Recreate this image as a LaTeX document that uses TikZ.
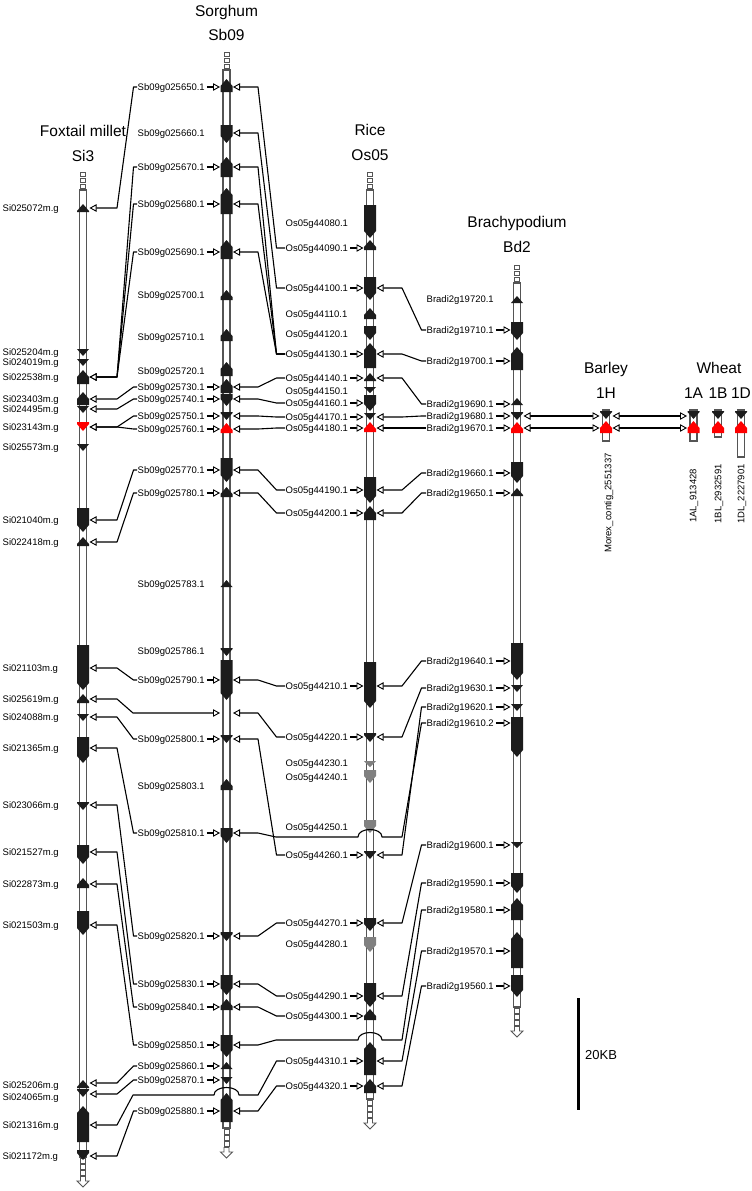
\documentclass[tikz,border=0pt]{standalone}
\usepackage{fontspec}
\setmainfont{Liberation Sans}
\usetikzlibrary{arrows.meta}
\definecolor{gene}{RGB}{28,28,28}
\definecolor{chr}{RGB}{85,85,85}
\definecolor{grayg}{RGB}{128,128,128}
\definecolor{redg}{RGB}{255,0,0}
\newcommand\geneup[4][gene]{\pgfmathsetmacro\tp{min(7,#4-#3)}\fill[#1] (#2-6,#4) -- (#2-6,#3+\tp) -- (#2,#3) -- (#2+6,#3+\tp) -- (#2+6,#4) -- cycle;}
\newcommand\genedn[4][gene]{\pgfmathsetmacro\tp{min(7,#4-#3)}\fill[#1] (#2-6,#3) -- (#2-6,#4-\tp) -- (#2,#4) -- (#2+6,#4-\tp) -- (#2+6,#3) -- cycle;}
\newcommand\chrbar[3]{\draw[chrbar] (#1-3.5,#2) rectangle (#1+3.5,#3);}
\newcommand\topsq[2]{\foreach \k in {1,2,3}{\draw[chrbar,line width=0.9pt] (#1-2.5,#2-6*\k) rectangle (#1+2.5,#2-6*\k+4.5);}}
\newcommand\botsq[2]{\foreach \k in {1,2,3}{\draw[chrbar,line width=0.9pt] (#1-2.5,#2+6*\k-4.5) rectangle (#1+2.5,#2+6*\k);}
 \draw[chrbar,line width=0.9pt] (#1-2.5,#2+19.5) -- (#1-2.5,#2+24) -- (#1-6,#2+24) -- (#1,#2+30) -- (#1+6,#2+24) -- (#1+2.5,#2+24) -- (#1+2.5,#2+19.5) -- cycle;}
\newcommand\SiSb[2]{\draw[con,ot-] (89.5,#1) -- (117,#1) -- ([xshift=-3.5pt]#2.west) -- (#2.west);}
\newcommand\SbOs[2]{\draw[con,ot-] (233,#1) -- (258,#1) -- ([xshift=-8.5pt]#2.west) -- (#2.west);}
\newcommand\OsBd[2]{\draw[con,ot-] (376.5,#1) -- (402,#1) -- ([xshift=-4.5pt]#2.west) -- (#2.west);}
\begin{document}
\begin{tikzpicture}[x=1pt,y=-1pt,
 lbl/.style={font=\fontsize{9.5}{11}\selectfont, anchor=west, inner sep=0.5pt, text height=6.8pt, text depth=0pt},
 ttl/.style={font=\fontsize{15.5}{18}\selectfont, inner sep=0pt, text height=11.1pt, text depth=0pt},
 rlbl/.style={font=\fontsize{9.5}{11}\selectfont, rotate=90, inner sep=0pt},
 con/.style={line width=1.1pt, black, line join=round},
 ot/.tip={Triangle[open, fill=white, length=7pt, width=7.5pt, line width=0.9pt]},
 chrbar/.style={draw=chr, line width=1.2pt, fill=white},
]
\fill[white] (0,0) rectangle (752,1191);
\useasboundingbox (0,0) rectangle (752,1191);
% chromosomes
\chrbar{83}{190}{1157}\topsq{83}{190}\botsq{83}{1157}
\chrbar{226.5}{70}{1128}\topsq{226.5}{70}\botsq{226.5}{1128}
\chrbar{370}{190}{1099}\topsq{370}{190}\botsq{370}{1099}
\chrbar{517}{283}{1007}\topsq{517}{283}\botsq{517}{1007}
\chrbar{606}{410}{441}
\chrbar{693.5}{410}{441}
\chrbar{718}{410}{437}
\chrbar{741}{410}{457}
% Si3 genes
\geneup{83}{204}{212}
\genedn{83}{349}{356}
\genedn{83}{359}{366}
\geneup{83}{370}{384}
\geneup{83}{392}{405}
\genedn{83}{406}{413}
\genedn[redg]{83}{422}{431}
\genedn{83}{444}{451}
\genedn{83}{508}{532}
\geneup{83}{537}{546}
\genedn{83}{645}{690}
\geneup{83}{694}{703}
\genedn{83}{714}{721}
\genedn{83}{737}{763}
\genedn{83}{802}{810}
\genedn{83}{845}{864}
\geneup{83}{878}{888}
\genedn{83}{911}{935}
\geneup{83}{1080}{1088}
\genedn{83}{1089}{1097}
\geneup{83}{1106}{1142}
\genedn{83}{1150}{1160}
% Sb09 genes
\geneup{226.5}{79}{92}
\genedn{226.5}{125}{143}
\geneup{226.5}{157}{177}
\geneup{226.5}{188}{214}
\geneup{226.5}{240}{259}
\geneup{226.5}{290}{300}
\geneup{226.5}{329}{341}
\geneup{226.5}{362}{376}
\geneup{226.5}{379}{393}
\genedn{226.5}{394}{406}
\genedn{226.5}{412}{420}
\geneup[redg]{226.5}{423}{433}
\genedn{226.5}{458}{482}
\geneup{226.5}{487}{497}
\geneup{226.5}{580}{587}
\genedn{226.5}{648}{656}
\genedn{226.5}{660}{700}
\genedn{226.5}{735}{743}
\geneup{226.5}{779}{790}
\genedn{226.5}{828}{843}
\genedn{226.5}{932}{941}
\genedn{226.5}{975}{995}
\geneup{226.5}{999}{1010}
\genedn{226.5}{1035}{1057}
\geneup{226.5}{1062}{1069}
\genedn{226.5}{1077}{1084}
\geneup{226.5}{1093}{1122}
% Os05 genes
\genedn{370}{205}{238}
\geneup{370}{240}{250}
\genedn{370}{277}{300}
\geneup{370}{308}{319}
\genedn{370}{326}{340}
\geneup{370}{343}{368}
\geneup{370}{373}{381}
\genedn{370}{387}{393}
\genedn{370}{395}{411}
\genedn{370}{413}{420}
\geneup[redg]{370}{422}{432}
\genedn{370}{477}{503}
\geneup{370}{506}{520}
\genedn{370}{662}{708}
\genedn{370}{733}{742}
\genedn[grayg]{370}{761}{767}
\genedn[grayg]{370}{770}{783}
\genedn[grayg]{370}{820}{833}
\genedn{370}{851}{859}
\genedn{370}{918}{931}
\genedn[grayg]{370}{937}{952}
\genedn{370}{983}{1007}
\geneup{370}{1009}{1020}
\geneup{370}{1042}{1075}
\geneup{370}{1079}{1093}
% Bd2 genes
\geneup{517}{296}{303}
\genedn{517}{322}{340}
\geneup{517}{347}{370}
\geneup{517}{398}{405}
\genedn{517}{412}{420}
\geneup[redg]{517}{422}{433}
\genedn{517}{462}{483}
\geneup{517}{488}{496}
\genedn{517}{643}{680}
\genedn{517}{685}{692}
\genedn{517}{704}{711}
\genedn{517}{717}{757}
\genedn{517}{842}{848}
\genedn{517}{873}{893}
\geneup{517}{898}{920}
\geneup{517}{932}{968}
\genedn{517}{975}{997}
% Barley / wheat genes
\foreach \xx in {606,693.5,718,741}{\genedn{\xx}{411}{419}\geneup[redg]{\xx}{421}{433}}
% titles
\node[ttl] (tfox) at (83,131) {Foxtail millet};
\node[ttl] (tsi) at (83,156) {Si3};
\node[ttl] (tsor) at (226.5,11) {Sorghum};
\node[ttl] (tsb) at (226.5,35) {Sb09};
\node[ttl] (trice) at (370,130) {Rice};
\node[ttl] (tos) at (370,155) {Os05};
\node[ttl] (tbra) at (517,222) {Brachypodium};
\node[ttl] (tbd) at (517,247) {Bd2};
\node[ttl] (tbar) at (606,368) {Barley};
\node[ttl] (th) at (606,393) {1H};
\node[ttl] (twh) at (719,368) {Wheat};
\node[ttl] (ta) at (693.5,393) {1A};
\node[ttl] (tb) at (718,393) {1B};
\node[ttl] (td) at (741,393) {1D};
% rotated labels
\node[rlbl] (morex) at (609,503) {Morex\_contig\_2551337};
\node[rlbl] (al) at (694,496) {1AL\_913428};
\node[rlbl] (bl) at (719,494) {1BL\_2932591};
\node[rlbl] (dl) at (742,494) {1DL\_2227901};
% gene labels
\foreach \id/\yy in {025072/208,025204/352,024019/362,022538/377,023403/399,024495/409,023143/427,025573/447,021040/520,022418/542,021103/668,025619/699,024088/717,021365/748,023066/805,021527/852,022873/884,021503/925,025206/1085,024065/1097,021316/1125,021172/1156}
 {\node[lbl] (si\id) at (2,\yy) {Si\id m.g};}
\foreach \id/\yy in {650/87,660/133,670/167,680/204,690/252,700/295,710/337,720/371,730/387,740/399,750/416,760/429,770/470,780/493,783/584,786/651,790/680,800/739,803/786,810/833,820/936,830/984,840/1007,850/1045,860/1066,870/1080,880/1111}
 {\node[lbl] (sb\id) at (137,\yy) {Sb09g025\id.1};}
\foreach \id/\yy in {44080/223,44090/248,44100/288,44110/314,44120/334,44130/354,44140/378,44150/391,44160/403,44170/417,44180/428,44190/490,44200/513,44210/686,44220/737,44230/763,44240/777,44250/827,44260/855,44270/923,44280/944,44290/996,44300/1016,44310/1061,44320/1086}
 {\node[lbl] (os\id) at (285,\yy) {Os05g\id.1};}
\foreach \id/\yy in {19720/299,19710/330,19700/361,19690/404,19680/416,19670/428,19660/473,19650/493,19640/661,19630/688,19620/707,19600/845,19590/883,19580/910,19570/951,19560/986}
 {\node[lbl] (bd\id) at (426,\yy) {Bradi2g\id.1};}
\node[lbl] (bd19610) at (426,723) {Bradi2g19610.2};
% tip columns
\coordinate (sbL) at (220,0);
\coordinate (osL) at (363.5,0);
\coordinate (bdL) at (510.5,0);
\coordinate (sbgap) at (220,713);
% label arrows
\foreach \n in {sb650,sb670,sb680,sb690,sb730,sb740,sb750,sb760,sb770,sb780,sb790,sb800,sb810,sb820,sb830,sb840,sb850,sb860,sb870,sb880}
 {\draw[con,-ot] ([xshift=1.5pt]\n.east) -- (\n.east -| sbL);}
\foreach \n in {os44090,os44100,os44130,os44140,os44160,os44170,os44180,os44190,os44200,os44210,os44220,os44260,os44270,os44290,os44300,os44310,os44320}
 {\draw[con,-ot] ([xshift=1.5pt]\n.east) -- (\n.east -| osL);}
\foreach \n in {bd19710,bd19700,bd19690,bd19680,bd19670,bd19660,bd19650,bd19640,bd19630,bd19620,bd19610,bd19600,bd19590,bd19580,bd19570,bd19560}
 {\draw[con,-ot] ([xshift=1.5pt]\n.east) -- (\n.east -| bdL);}
% Si -> Sb
\SiSb{208}{sb650}
\SiSb{377}{sb670}
\SiSb{377}{sb680}
\SiSb{377}{sb690}
\SiSb{399}{sb730}
\SiSb{409}{sb740}
\SiSb{427}{sb750}
\SiSb{427}{sb760}
\SiSb{520}{sb770}
\SiSb{542}{sb780}
\SiSb{668}{sb790}
\draw[con,ot-ot] (89.5,699) -- (117,699) -- (133,713) -- (sbgap);
\SiSb{717}{sb800}
\SiSb{748}{sb810}
\SiSb{805}{sb820}
\SiSb{852}{sb830}
\SiSb{884}{sb840}
\SiSb{925}{sb850}
\SiSb{1083}{sb860}
\SiSb{1094}{sb870}
\SiSb{1156}{sb880}
\draw[con,ot-] (89.5,1125) -- (117,1125) -- (133,1095) -- (214,1095) .. controls (214,1085) and (239,1085) .. (239,1095) -- (258,1095) -- ([xshift=-8.5pt]os44310.west) -- (os44310.west);
% Sb -> Os
\SbOs{87}{os44090}
\SbOs{133}{os44100}
\SbOs{167}{os44130}
\SbOs{204}{os44130}
\SbOs{252}{os44130}
\SbOs{387}{os44140}
\SbOs{399}{os44160}
\SbOs{416}{os44170}
\SbOs{429}{os44180}
\SbOs{470}{os44190}
\SbOs{493}{os44200}
\SbOs{680}{os44210}
\SbOs{713}{os44220}
\SbOs{739}{os44260}
\SbOs{936}{os44270}
\SbOs{984}{os44290}
\SbOs{1007}{os44300}
\SbOs{1111}{os44320}
\draw[con,ot-] (233,833) -- (258,833) -- (276,837) -- (358,837) .. controls (358,827) and (382,827) .. (382,837) -- (402,837) -- ([xshift=-4.5pt]bd19610.west) -- (bd19610.west);
\draw[con,ot-] (233,1045) -- (258,1045) -- (276,1040) -- (358,1040) .. controls (358,1030) and (382,1030) .. (382,1040) -- (402,1040) -- ([xshift=-4.5pt]bd19580.west) -- (bd19580.west);
% Os -> Bd
\OsBd{288}{bd19710}
\OsBd{354}{bd19700}
\OsBd{378}{bd19690}
\OsBd{417}{bd19680}
\OsBd{428}{bd19670}
\OsBd{490}{bd19660}
\OsBd{513}{bd19650}
\OsBd{686}{bd19640}
\OsBd{737}{bd19630}
\OsBd{855}{bd19620}
\OsBd{923}{bd19600}
\OsBd{996}{bd19590}
\OsBd{1061}{bd19570}
\OsBd{1086}{bd19560}
% Bd -> Barley -> Wheat
\draw[con,ot-ot] (523.5,416) -- (599.5,416);
\draw[con,ot-ot] (523.5,428) -- (599.5,428);
\draw[con,ot-ot] (612.5,416) -- (687,416);
\draw[con,ot-ot] (612.5,428) -- (687,428);
% scale bar
\draw[line width=3pt] (578,998) -- (578,1110);
\node[font=\fontsize{13}{15}\selectfont, anchor=west, inner sep=0pt] (scale) at (585,1055) {20KB};
\end{tikzpicture}
\end{document}
